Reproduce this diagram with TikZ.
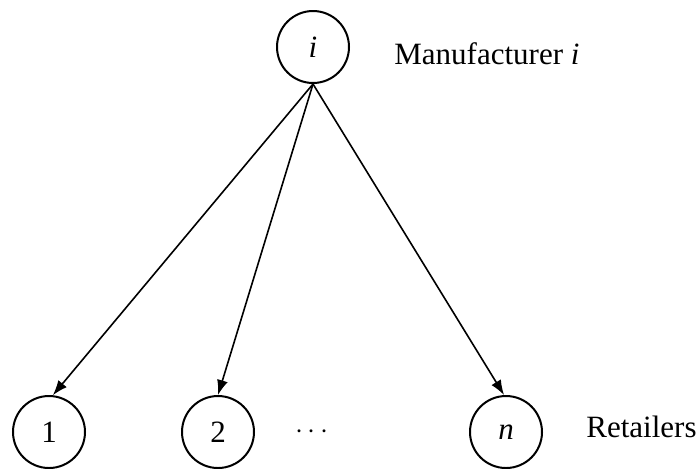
\documentclass[tikz,border=0pt]{standalone}
\usepackage{fontspec}
\setmainfont{Liberation Serif}
\usetikzlibrary{arrows.meta}
\begin{document}
\begin{tikzpicture}[x=0.5pt,y=-0.5pt,
  agent/.style={draw,circle,line width=1pt,minimum size=36pt,inner sep=0pt,
    font=\fontsize{15.5}{18}\selectfont},
  lbl/.style={font=\fontsize{15.5}{18}\selectfont,inner sep=0pt},
  link/.style={line width=0.8pt,-{Latex[length=7.5pt,width=5.5pt]}}]
\useasboundingbox (0,0) rectangle (700,468);
\node[agent] (i) at (313,47) {\textit{i}};
\node[agent] (r1) at (49,432) {1};
\node[agent] (r2) at (218,432) {2};
\node[agent] (rn) at (506,432) {\textit{n}};
\node[lbl] (dots) at (312,432) {$\cdots$};
\node[lbl,anchor=base west] (man) at (394,64) {Manufacturer \textit{i}};
\node[lbl,anchor=base west] (ret) at (586,437) {Retailers};
\draw[link] (i.south) -- (r1.84);
\draw[link] (i.south) -- (r2.90);
\draw[link] (i.south) -- (rn.93);
\end{tikzpicture}
\end{document}
